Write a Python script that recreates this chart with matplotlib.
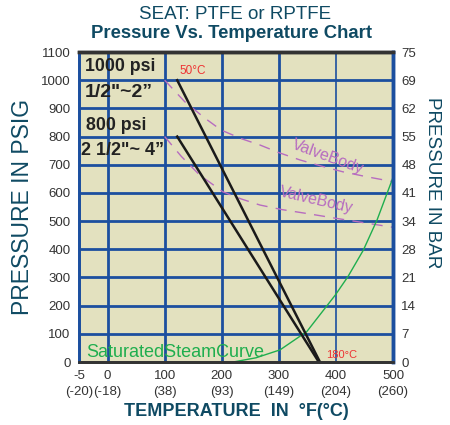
import matplotlib
matplotlib.use("Agg")
import matplotlib.pyplot as plt

plt.rcParams["font.family"] = ["Liberation Sans", "DejaVu Sans"]

# Axis ticks and labels
temp_ticks = [-50, 0, 100, 200, 300, 400, 500]
temp_labels = ["-5\n(-20)", "0\n(-18)", "100\n(38)", "200\n(93)", "300\n(149)", "400\n(204)", "500\n(260)"]
psi_ticks = [0, 100, 200, 300, 400, 500, 600, 700, 800, 900, 1000, 1100]
bar_labels = ["0", "7", "14", "21", "28", "34", "41", "48", "55", "62", "69", "75"]

# Seat ratings (°F, psig)
seat_small_t = [122, 372]
seat_small_p = [1000, 0]
seat_large_t = [122, 370]
seat_large_p = [800, 0]

# Valve body ratings (°F, psig)
body_upper_t = [100, 135, 170, 199, 235, 267, 300, 337, 375, 412, 455, 500]
body_upper_p = [1000, 924, 866, 823, 792, 770, 743, 717, 695, 675, 657, 640]
body_lower_t = [100, 129, 161, 202, 235, 267, 305, 349, 400, 450, 500]
body_lower_p = [800, 730, 664, 604, 578, 557, 541, 527, 510, 494, 478]

# Saturated steam (°F, psig)
steam_t = [220, 260, 302, 349, 399, 421, 448, 472, 495, 500]
steam_p = [0, 15, 43, 108, 238, 303, 397, 504, 628, 655]

DARK = "#0f4a63"
GRID = "#1c4f9f"
PURPLE = "#b76cc0"
GREEN = "#1fae4e"

fig = plt.figure(figsize=(4.5, 4.25), dpi=100)
ax = fig.add_axes([0.1756, 0.1482, 0.6978, 0.7294])
ax.set_facecolor("#e3e1bf")
ax.set_xlim(-50, 500)
ax.set_ylim(0, 1100)

# grid
for t in [0, 100, 200, 300]:
    ax.axvline(t, color=GRID, lw=2.0, zorder=1)
ax.axvline(400, color=GRID, lw=1.2, zorder=1)
for p in range(100, 1100, 100):
    ax.axhline(p, color=GRID, lw=2.0, zorder=1)

ax.plot(body_upper_t, body_upper_p, color=PURPLE, lw=1.0, ls=(0, (8, 6)), zorder=2)
ax.plot(body_lower_t, body_lower_p, color=PURPLE, lw=1.0, ls=(0, (8, 6)), zorder=2)
ax.plot(steam_t, steam_p, color=GREEN, lw=1.0, zorder=2)
ax.plot(seat_small_t, seat_small_p, color="#1a1a1a", lw=1.8, zorder=3)
ax.plot(seat_large_t, seat_large_p, color="#1a1a1a", lw=1.8, zorder=3)

# annotations
ax.text(-40, 1047, "1000 psi", fontsize=12.8, fontweight="bold", color="#222222", va="center")
ax.text(-40, 958, "1/2\"~2\u201d", fontsize=14, fontweight="bold", color="#222222", va="center")
ax.text(-38, 841, "800 psi", fontsize=12.8, fontweight="bold", color="#222222", va="center")
ax.text(-47, 752, "2 1/2\"~ 4\u201d", fontsize=13, fontweight="bold", color="#222222", va="center")
ax.text(126, 1033, "50°C", fontsize=8.5, color="#ee3333", va="center")
ax.text(383, 25, "180°C", fontsize=8, color="#ee3333", va="center")
ax.text(386, 727, "ValveBody", fontsize=11.5, color=PURPLE, rotation=-20, ha="center", va="center")
ax.text(365, 575, "ValveBody", fontsize=11.5, color=PURPLE, rotation=-13, ha="center", va="center")
ax.text(-38, 35, "SaturatedSteamCurve", fontsize=13, color=GREEN, va="center")

# ticks
ax.set_xticks(temp_ticks)
ax.set_xticklabels(temp_labels, fontsize=9.5, color="#333333", linespacing=1.45)
ax.set_yticks(psi_ticks)
ax.set_yticklabels([str(v) for v in psi_ticks], fontsize=9.5, color="#333333")
ax.tick_params(length=0, pad=6)

ax2 = ax.twinx()
ax2.set_ylim(0, 1100)
ax2.set_yticks(psi_ticks)
ax2.set_yticklabels(bar_labels, fontsize=9.5, color="#333333")
ax2.tick_params(length=0, pad=6)

for a in (ax, ax2):
    a.spines["top"].set_color("#333333")
    a.spines["top"].set_linewidth(2.5)
    a.spines["bottom"].set_color("#333333")
    a.spines["bottom"].set_linewidth(2.0)
    a.spines["left"].set_color(GRID)
    a.spines["left"].set_linewidth(2.0)
    a.spines["right"].set_color(GRID)
    a.spines["right"].set_linewidth(2.5)

fig.text(0.05, 0.512, "PRESSURE IN PSIG", fontsize=16.5, color=DARK, rotation=90,
         ha="center", va="center")
fig.text(0.962, 0.57, "PRESSURE IN BAR", fontsize=13.6, color=DARK, rotation=270,
         ha="center", va="center")
ax.set_xlabel("TEMPERATURE  IN  °F(°C)", fontsize=13, fontweight="bold", color=DARK, labelpad=3)

fig.text(0.522, 0.965, "SEAT: PTFE or RPTFE", fontsize=13.5, color=DARK, ha="center", va="center")
fig.text(0.515, 0.922, "Pressure Vs. Temperature Chart", fontsize=13.3, fontweight="bold", color=DARK, ha="center", va="center")

fig.savefig("out.png", dpi=100)
